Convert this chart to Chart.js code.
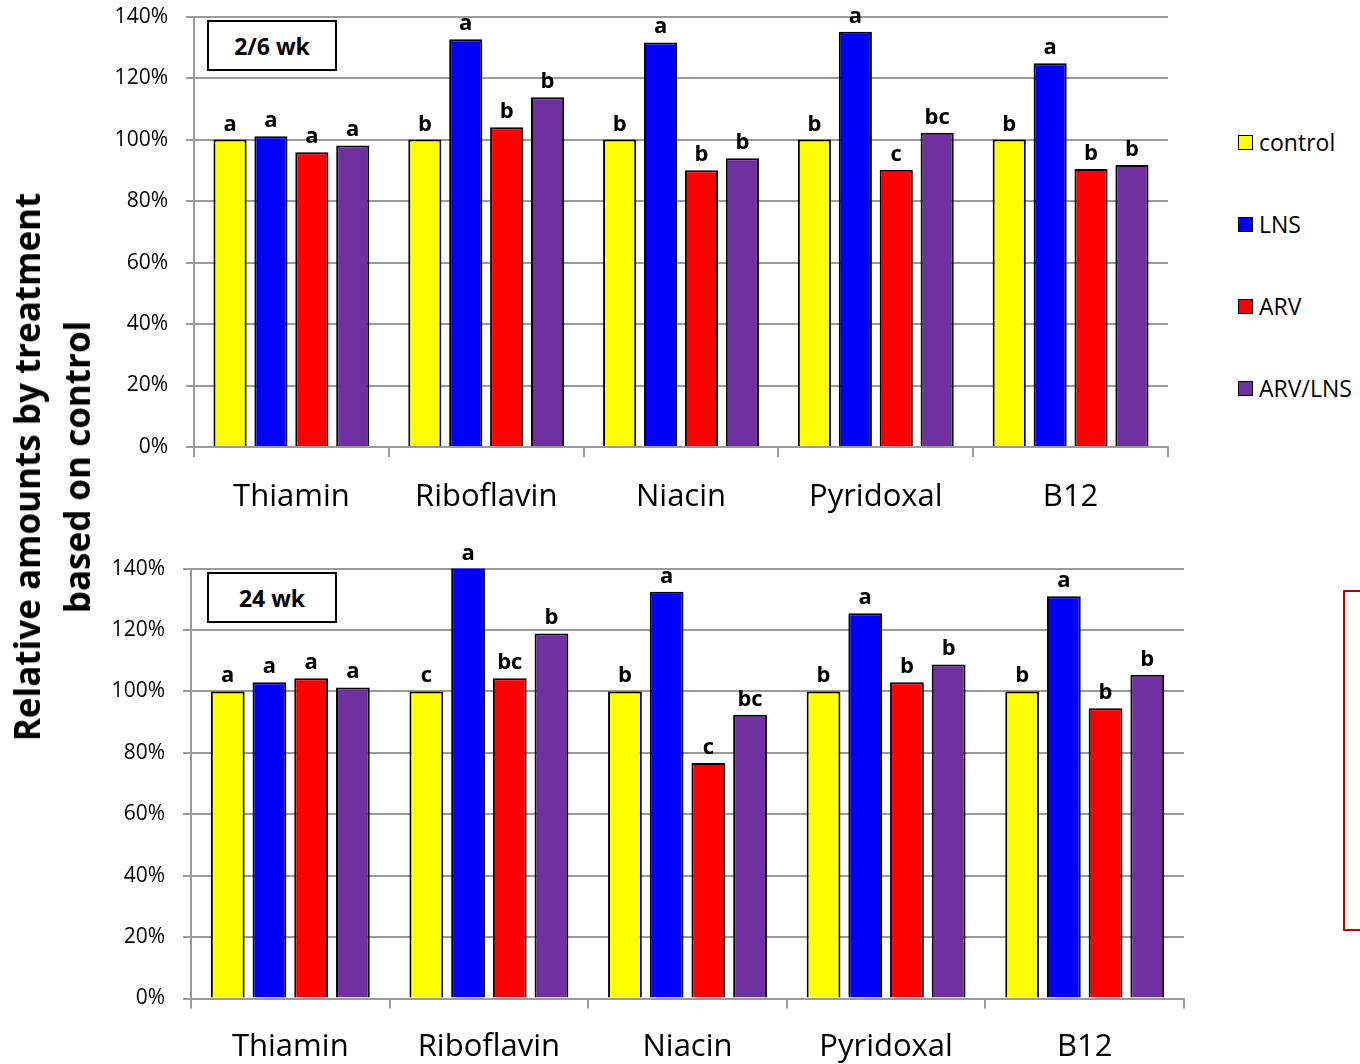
<!DOCTYPE html>
<html>
<head>
<meta charset="utf-8">
<script src="https://cdn.jsdelivr.net/npm/chart.js@4/dist/chart.umd.min.js"></script>
<style>
  html, body { margin: 0; padding: 0; background: #fff; }
  body { width: 1360px; height: 1064px; position: relative; overflow: hidden; font-family: "Open Sans", sans-serif; }
  .panel { position: absolute; left: 0; width: 1200px; }
  #top { top: -14px; height: 544px; }
  #bottom { top: 538px; height: 526px; }
  .tag { position: absolute; border: 2px solid #000; background: #fff; font-weight: bold; font-size: 23px;
         display: flex; align-items: center; justify-content: center; box-sizing: border-box; }
  .ytitle { position: absolute; left: 52px; top: 467px; transform: translate(-50%, -50%) rotate(-90deg);
            font-weight: bold; font-size: 35px; line-height: 50px; text-align: center; white-space: nowrap; }
  .legend { position: absolute; left: 1238px; font-size: 23px; }
  .legend div { position: absolute; left: 0; height: 30px; display: flex; align-items: center; white-space: nowrap; }
  .legend span.sw { display: inline-block; width: 15px; height: 15px; border: 1.5px solid #000; box-sizing: border-box; margin-right: 6px; }
  .note { position: absolute; left: 1343px; top: 590px; width: 60px; height: 341px; border: 2px solid #c00000; box-sizing: border-box; }
</style>
</head>
<body>
<div class="panel" id="top"><canvas id="c1"></canvas></div>
<div class="panel" id="bottom"><canvas id="c2"></canvas></div>
<div class="tag" style="left:207px;top:20px;width:130px;height:51px;">2/6 wk</div>
<div class="tag" style="left:207px;top:572px;width:130px;height:51px;">24 wk</div>
<div class="ytitle">Relative amounts by treatment<br>based on control</div>
<div class="legend" id="legend"></div>
<div class="note"></div>
<script>
// Vitamins measured and treatment groups
const categories = ['Thiamin', 'Riboflavin', 'Niacin', 'Pyridoxal', 'B12'];
const seriesNames = ['control', 'LNS', 'ARV', 'ARV/LNS'];
const seriesColors = ['#ffff00', '#0000ff', '#ff0000', '#7030a0'];
const yTicks = [0, 20, 40, 60, 80, 100, 120, 140];

// 2/6 wk: % of control
const wk2_control = [100, 100, 100, 100, 100];
const wk2_lns     = [101.1, 132.6, 131.6, 135.1, 124.8];
const wk2_arv     = [95.9, 104.0, 90.0, 90.2, 90.4];
const wk2_arvlns  = [98.1, 113.8, 93.9, 102.2, 91.7];
// 2/6 wk: significance letters
const wk2_control_sig = ['a', 'b', 'b', 'b', 'b'];
const wk2_lns_sig     = ['a', 'a', 'a', 'a', 'a'];
const wk2_arv_sig     = ['a', 'b', 'b', 'c', 'b'];
const wk2_arvlns_sig  = ['a', 'b', 'b', 'bc', 'b'];

// 24 wk: % of control
const wk24_control = [100, 100, 100, 100, 100];
const wk24_lns     = [103.0, 146.0, 132.5, 125.5, 131.0];
const wk24_arv     = [104.3, 104.3, 76.7, 103.0, 94.5];
const wk24_arvlns  = [101.3, 118.9, 92.4, 108.8, 105.4];
// 24 wk: significance letters
const wk24_control_sig = ['a', 'c', 'b', 'b', 'b'];
const wk24_lns_sig     = ['a', 'a', 'a', 'a', 'a'];
const wk24_arv_sig     = ['a', 'bc', 'c', 'b', 'b'];
const wk24_arvlns_sig  = ['a', 'b', 'bc', 'b', 'b'];

const FONT = '"Open Sans", sans-serif';
const GRID = '#9a9a9a';

// Letters above each bar
const sigLabels = {
  id: 'sigLabels',
  afterDatasetsDraw(chart) {
    const ctx = chart.ctx;
    const top = chart.chartArea.top;
    ctx.save();
    ctx.font = 'bold 22px ' + FONT;
    ctx.fillStyle = '#000';
    ctx.textAlign = 'center';
    ctx.textBaseline = 'alphabetic';
    chart.data.datasets.forEach((ds, i) => {
      chart.getDatasetMeta(i).data.forEach((bar, j) => {
        const y = Math.max(bar.y, top);
        ctx.fillText(ds.sig[j], bar.x, y - 9);
      });
    });
    ctx.restore();
  }
};

function makeChart(id, values, sigs, pad, xHeight, xPad) {
  return new Chart(document.getElementById(id), {
    type: 'bar',
    data: {
      labels: categories,
      datasets: seriesNames.map((name, i) => ({
        label: name,
        data: values[i],
        sig: sigs[i],
        backgroundColor: seriesColors[i],
        borderColor: '#000',
        borderWidth: 2,
        borderSkipped: 'bottom',
        categoryPercentage: 0.84,
        barPercentage: 0.81,
        clip: 0
      }))
    },
    options: {
      responsive: true,
      maintainAspectRatio: false,
      animation: false,
      events: [],
      layout: { padding: pad },
      plugins: { legend: { display: false }, tooltip: { enabled: false } },
      scales: {
        x: {
          grid: { display: true, offset: true, drawOnChartArea: false, drawTicks: true, tickLength: 10, color: GRID, lineWidth: 2 },
          border: { color: GRID, width: 2 },
          ticks: { color: '#000', font: { family: FONT, size: 31 }, padding: xPad, maxRotation: 0 },
          afterFit(s) { s.height = xHeight; }
        },
        y: {
          min: 0, max: 140,
          afterBuildTicks(s) { s.ticks = yTicks.map(v => ({ value: v })); },
          grid: { color: GRID, lineWidth: 2, tickLength: 8 },
          border: { color: GRID, width: 2 },
          ticks: { color: '#000', font: { family: FONT, size: 21 }, padding: 18, callback: v => v + '%' },
          afterFit(s) { s.width = 90; }
        }
      }
    },
    plugins: [sigLabels]
  });
}

makeChart('c1',
  [wk2_control, wk2_lns, wk2_arv, wk2_arvlns],
  [wk2_control_sig, wk2_lns_sig, wk2_arv_sig, wk2_arvlns_sig],
  { left: 104, right: 32, top: 0, bottom: 0 }, 83, 22);

makeChart('c2',
  [wk24_control, wk24_lns, wk24_arv, wk24_arvlns],
  [wk24_control_sig, wk24_lns_sig, wk24_arv_sig, wk24_arvlns_sig],
  { left: 101, right: 16, top: 0, bottom: 0 }, 65.5, 20);

// Legend on the right
const legend = document.getElementById('legend');
const legendY = [142, 224, 306, 388];
seriesNames.forEach((name, i) => {
  const row = document.createElement('div');
  row.style.top = (legendY[i] - 15) + 'px';
  row.innerHTML = '<span class="sw" style="background:' + seriesColors[i] + '"></span>' + name;
  legend.appendChild(row);
});
</script>
</body>
</html>
